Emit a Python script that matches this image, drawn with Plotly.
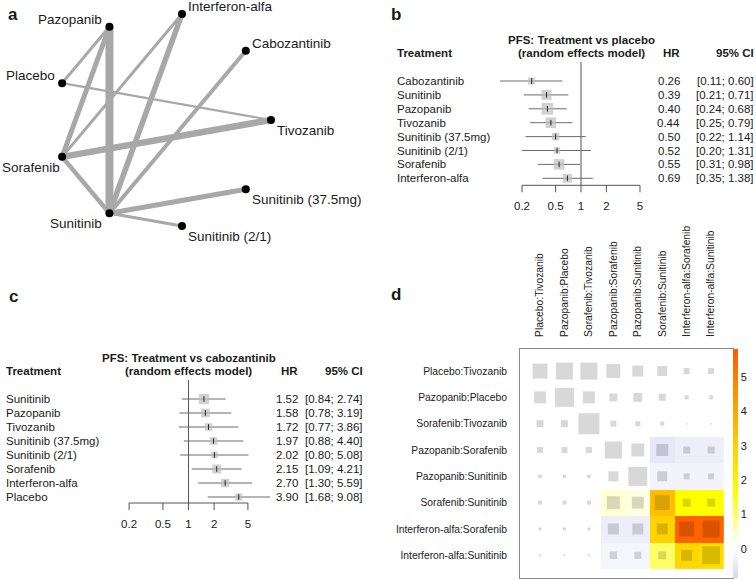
import numpy as np
import plotly.graph_objects as go

W, H = 756, 580
FONT = "Liberation Sans, Arial, sans-serif"
INK = "#1a1a1a"

# ---- a: network graph (circular layout, edges weighted by amount of evidence) ----
nodes = ["Tivozanib", "Cabozantinib", "Interferon-alfa", "Pazopanib", "Placebo",
         "Sorafenib", "Sunitinib", "Sunitinib (2/1)", "Sunitinib (37.5mg)"]
edge_from = ["Pazopanib", "Sorafenib", "Interferon-alfa", "Pazopanib", "Sorafenib",
             "Sunitinib", "Cabozantinib", "Pazopanib", "Interferon-alfa", "Sunitinib", "Placebo"]
edge_to = ["Sunitinib", "Tivozanib", "Sunitinib", "Sorafenib", "Sunitinib",
           "Sunitinib (37.5mg)", "Sunitinib", "Placebo", "Sorafenib", "Sunitinib (2/1)", "Tivozanib"]
edge_weight = [8, 6.5, 5.5, 5, 4.5, 5, 4, 3, 3, 3, 2.2]

# ---- b: treatment vs placebo ----
b_treat = ["Cabozantinib", "Sunitinib", "Pazopanib", "Tivozanib", "Sunitinib (37.5mg)",
           "Sunitinib (2/1)", "Sorafenib", "Interferon-alfa"]
b_hr = [0.26, 0.39, 0.40, 0.44, 0.50, 0.52, 0.55, 0.69]
b_lo = [0.11, 0.21, 0.24, 0.25, 0.22, 0.20, 0.31, 0.35]
b_hi = [0.60, 0.71, 0.68, 0.79, 1.14, 1.31, 0.98, 1.38]

# ---- c: treatment vs cabozantinib ----
c_treat = ["Sunitinib", "Pazopanib", "Tivozanib", "Sunitinib (37.5mg)", "Sunitinib (2/1)",
           "Sorafenib", "Interferon-alfa", "Placebo"]
c_hr = [1.52, 1.58, 1.72, 1.97, 2.02, 2.15, 2.70, 3.90]
c_lo = [0.84, 0.78, 0.77, 0.88, 0.80, 1.09, 1.30, 1.68]
c_hi = [2.74, 3.19, 3.86, 4.40, 5.08, 4.21, 5.59, 9.08]

axis_ticks = [0.2, 0.5, 1, 2, 5]
axis_labels = ["0.2", "0.5", "1", "2", "5"]

# ---- d: net heat plot ----
designs = ["Placebo:Tivozanib", "Pazopanib:Placebo", "Sorafenib:Tivozanib", "Pazopanib:Sorafenib",
           "Pazopanib:Sunitinib", "Sorafenib:Sunitinib", "Interferon-alfa:Sorafenib",
           "Interferon-alfa:Sunitinib"]
heat_z = [
    [0, 0, 0, 0, 0, 0, 0, 0],
    [0, 0, 0, 0, 0, 0, 0, 0],
    [0, 0, 0, 0, 0, 0, 0, 0],
    [0, 0, 0, 0, 0, -0.5, -0.35, -0.35],
    [0, 0, 0, 0, 0, -0.25, -0.25, -0.25],
    [0, 0, 0, 0.35, 0.25, 3.4, 1.6, 1.6],
    [0, 0, 0, -0.35, -0.35, 2.9, 5.6, 5.6],
    [0, 0, 0, -0.2, -0.2, 1.0, 2.8, 2.6],
]
contribution = [
    [15, 17, 17, 14, 11, 10, 6, 6],
    [12, 19, 12, 8, 9, 7, 4, 4],
    [7, 7, 21, 6, 5, 4, 1.5, 1.5],
    [6, 6, 6, 17, 13, 12, 7, 7],
    [3.5, 3.5, 3.5, 10, 19, 10, 6, 6],
    [4, 4, 4, 13, 12, 15, 8, 8],
    [3, 3, 3, 11, 11, 11, 15, 17],
    [2, 2, 2, 7.5, 7, 8, 11, 18],
]
zmin, zmax = -0.84, 5.81
scale_vals = [-0.84, 0, 0.5, 1.0, 1.6, 2.4, 3.0, 4.0, 5.81]
scale_cols = ["#D6D6F3", "#FFFFFF", "#FFFFC4", "#FFFF66", "#FFFF00", "#FFE400",
              "#FFD000", "#FFA600", "#FF5A00"]


def dom_x(left, right):
    return [left / W, right / W]


def dom_y(top, bottom):
    return [1 - bottom / H, 1 - top / H]


fig = go.Figure()
annotations = []


def label(x_px, y, s, anchor="left", yref="paper", size=11.5, bold=False):
    # annotation boxes carry ~2px of padding, compensate so text edges land on x_px
    pad = {"left": -2, "right": 2, "center": 0}[anchor]
    annotations.append(dict(
        x=(x_px + pad) / W, xref="paper", y=(1 - y / H) if yref == "paper" else y, yref=yref,
        text=f"<b>{s}</b>" if bold else s, showarrow=False, xanchor=anchor, yanchor="middle",
        font=dict(size=size, color=INK, family=FONT)))


# ================= panel a =================
cx, cy, r = 163.3, 120, 107.7
ang = np.deg2rad(np.arange(len(nodes)) * 360 / len(nodes))
pos = {n: (np.cos(a), np.sin(a)) for n, a in zip(nodes, ang)}
for a, b, w in zip(edge_from, edge_to, edge_weight):
    fig.add_trace(go.Scatter(
        x=[pos[a][0], pos[b][0]], y=[pos[a][1], pos[b][1]], mode="lines",
        line=dict(color="#A8A8A8", width=w), hoverinfo="skip", showlegend=False,
        xaxis="x", yaxis="y"))
fig.add_trace(go.Scatter(
    x=np.cos(ang), y=np.sin(ang), mode="markers", marker=dict(size=8, color="black"),
    hoverinfo="skip", showlegend=False, xaxis="x", yaxis="y"))

# node labels: outside the circle, nudged back inside the canvas if needed
for name, a in zip(nodes, ang):
    right = np.cos(a) > 0
    up = np.sin(a) > 0.01
    xs = 4 if right else -5
    if not right:
        est_w = 0.5 * 13.5 * len(name)
        left_edge = cx + r * np.cos(a) + xs - est_w
        if left_edge < 1:
            xs += 1 - left_edge
    annotations.append(dict(
        x=np.cos(a), y=np.sin(a), xref="x", yref="y", text=name, showarrow=False,
        xanchor="left" if right else "right", yanchor="middle",
        xshift=xs, yshift=7.5 if up else -10.5,
        font=dict(size=13.5, color=INK, family=FONT)))

fig.update_layout(
    xaxis=dict(domain=dom_x(0, 370), range=[-cx / r, (370 - cx) / r], visible=False),
    yaxis=dict(domain=dom_y(0, 262), range=[-(262 - cy) / r, cy / r], visible=False),
)


# ================= panels b, c =================
def add_forest(n, names, hr, lo, hi, p):
    xa, ya = f"x{n}", f"y{n}"
    hr, lo, hi = np.asarray(hr), np.asarray(lo), np.asarray(hi)
    rows = np.arange(len(names))
    se = (np.log(hi) - np.log(lo)) / (2 * 1.96)
    pitch = p["pitch"]
    axis_y = rows[-1] + p["axis_gap"] / pitch
    tick_y = axis_y + 7 / pitch
    lab_y = axis_y + 22 / pitch
    ref_top = (p["ref_top"] - p["row0"]) / pitch

    common = dict(hoverinfo="skip", showlegend=False, xaxis=xa, yaxis=ya)
    # reference line at HR = 1
    fig.add_trace(go.Scatter(x=[1, 1], y=[ref_top, axis_y], mode="lines",
                             line=dict(color="#555555", width=1), **common))
    # axis line and ticks
    tx, ty = [axis_ticks[0], axis_ticks[-1], None], [axis_y, axis_y, None]
    for t in axis_ticks:
        tx += [t, t, None]
        ty += [axis_y, tick_y, None]
    fig.add_trace(go.Scatter(x=tx, y=ty, mode="lines", line=dict(color="#555555", width=1), **common))
    fig.add_trace(go.Scatter(x=axis_ticks, y=[lab_y] * len(axis_ticks), mode="text", text=axis_labels,
                             textfont=dict(size=11.5, color=INK, family=FONT), cliponaxis=False, **common))
    # confidence intervals
    cx_, cy_ = [], []
    for i in rows:
        cx_ += [lo[i], hi[i], None]
        cy_ += [i, i, None]
    fig.add_trace(go.Scatter(x=cx_, y=cy_, mode="lines", line=dict(color="#6a6a6a", width=1), **common))
    # squares sized by precision
    fig.add_trace(go.Scatter(x=hr, y=rows, mode="markers",
                             marker=dict(symbol="square", size=3.1 / se, color="#BEBEBE", line_width=0),
                             cliponaxis=False, **common))
    fig.add_trace(go.Scatter(x=hr, y=rows, mode="markers",
                             marker=dict(symbol="line-ns", size=4, line=dict(color="#222222", width=1)),
                             cliponaxis=False, **common))

    xl, xr = p["xdom"]
    yt, yb = p["ydom"]
    fig.update_layout(**{
        f"xaxis{n}": dict(type="log", domain=dom_x(xl, xr),
                          range=[(xl - p["ref"]) / p["dec"], (xr - p["ref"]) / p["dec"]],
                          visible=False, anchor=ya),
        f"yaxis{n}": dict(domain=dom_y(yt, yb),
                          range=[(yb - p["row0"]) / pitch, (yt - p["row0"]) / pitch],
                          visible=False, anchor=xa),
    })

    # text columns
    label(p["ref"], p["head1"], p["title"], anchor="center", bold=True)
    label(p["ref"], p["head2"], "(random effects model)", anchor="center", bold=True)
    label(p["left"], p["head2"], "Treatment", bold=True)
    label(p["hr_r"], p["head2"], "HR", anchor="right", bold=True)
    label(p["ci_r"], p["head2"], "95% CI", anchor="right", bold=True)
    for i, nm in enumerate(names):
        label(p["left"], i, nm, yref=ya)
        label(p["hr_r"], i, f"{hr[i]:.2f}", anchor="right", yref=ya)
        label(p["ci_r"], i, f"[{lo[i]:.2f}; {hi[i]:.2f}]", anchor="right", yref=ya)


add_forest(2, b_treat, b_hr, b_lo, b_hi, dict(
    row0=81, pitch=13.9, axis_gap=7, ref_top=62, ref=581, dec=84.4,
    xdom=(470, 700), ydom=(56, 216), title="PFS: Treatment vs placebo",
    head1=40, head2=53, left=397, hr_r=680, ci_r=754))
add_forest(3, c_treat, c_hr, c_lo, c_hi, dict(
    row0=399, pitch=14.0, axis_gap=6, ref_top=380, ref=188.5, dec=85.0,
    xdom=(80, 300), ydom=(374, 536), title="PFS: Treatment vs cabozantinib",
    head1=358, head2=371, left=6, hr_r=298, ci_r=363))

# ================= panel d =================
colorscale = [[(v - zmin) / (zmax - zmin), c] for v, c in zip(scale_vals, scale_cols)]
fig.add_trace(go.Heatmap(
    z=heat_z, x=designs, y=designs, colorscale=colorscale, zmin=zmin, zmax=zmax,
    xaxis="x4", yaxis="y4", hoverinfo="skip",
    colorbar=dict(x=733 / W, xanchor="left", y=1 - 349 / H, yanchor="top",
                  len=(578 - 349) / H, lenmode="fraction", thickness=5, outlinewidth=0,
                  xpad=0, ypad=0, ticks="", tickvals=[0, 1, 2, 3, 4, 5],
                  tickfont=dict(size=11, color=INK, family=FONT))))
sx, sy, ss = [], [], []
for i, row in enumerate(contribution):
    for j, v in enumerate(row):
        sx.append(designs[j])
        sy.append(designs[i])
        ss.append(v)
fig.add_trace(go.Scatter(
    x=sx, y=sy, mode="markers", xaxis="x4", yaxis="y4", hoverinfo="skip", showlegend=False,
    marker=dict(symbol="square", size=ss, color="rgba(0,0,0,0.22)", line_width=0)))

fig.update_layout(
    xaxis4=dict(domain=dom_x(520, 733), side="top", tickangle=-90, anchor="y4",
                categoryorder="array", categoryarray=designs, showgrid=False, zeroline=False,
                showline=True, mirror=True, linecolor="#8a8a8a", linewidth=1, ticks="",
                ticklabelstandoff=9, automargin=False,
                tickfont=dict(size=10.3, color="#222222", family=FONT)),
    yaxis4=dict(domain=dom_y(349, 578), autorange="reversed", anchor="x4",
                categoryorder="array", categoryarray=designs, showgrid=False, zeroline=False,
                showline=True, mirror=True, linecolor="#8a8a8a", linewidth=1, ticks="",
                ticklabelstandoff=10, automargin=False,
                tickfont=dict(size=10.3, color="#222222", family=FONT)),
)

# panel letters
for s, x, y in [("a", 13, 15), ("b", 396, 15), ("c", 13, 296), ("d", 396, 294)]:
    label(x, y, s, anchor="center", size=17, bold=True)

fig.update_layout(
    width=W, height=H, margin=dict(l=0, r=0, t=0, b=0, autoexpand=False),
    paper_bgcolor="white", plot_bgcolor="white",
    font=dict(family=FONT, color=INK), showlegend=False, hovermode=False,
    annotations=annotations,
)

# the page body has a default 8px margin; drop it so the figure sits at the window corner
fig.write_html("out.html", config={"displayModeBar": False},
               post_script="document.body.style.margin='0px';")
